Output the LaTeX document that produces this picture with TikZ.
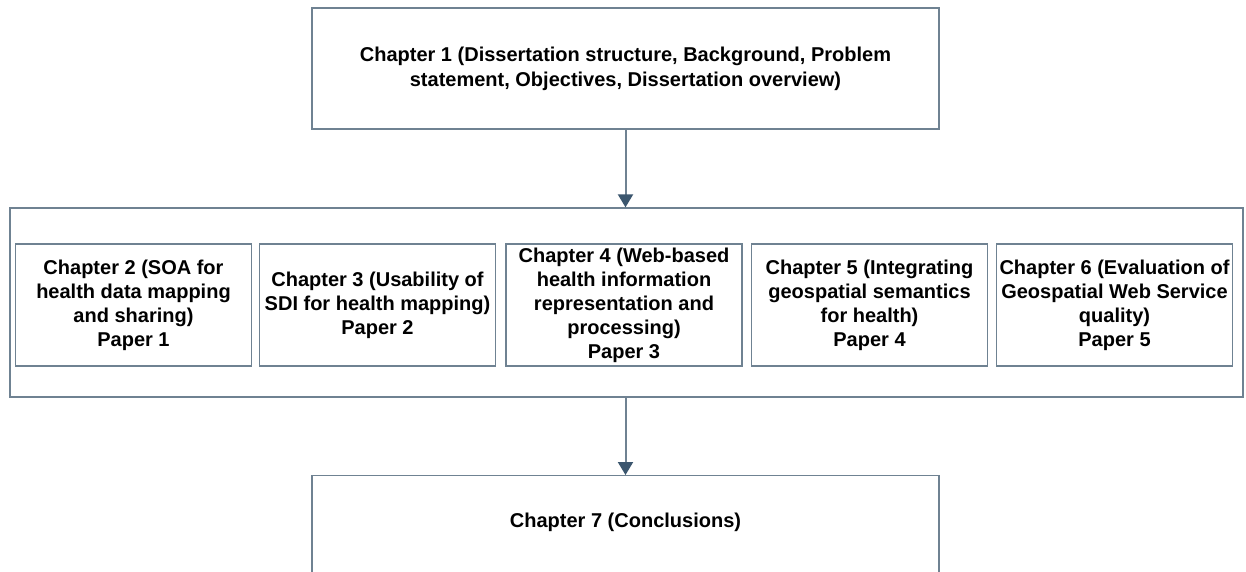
\documentclass[tikz,border=0pt]{standalone}
\usepackage{fontspec}
\setmainfont{Liberation Sans}
\usetikzlibrary{arrows.meta}
\definecolor{edgegray}{HTML}{6F8292}
\definecolor{tipblue}{HTML}{3B566E}
\tikzset{
  box/.style={draw=edgegray, line width=1.3pt, fill=white, align=center,
    font=\bfseries\fontsize{20}{24}\selectfont, inner sep=0pt},
  chapbox/.style={box, minimum width=236pt, minimum height=122pt},
  flow/.style={draw=edgegray, line width=2pt,
    -{Triangle[width=15pt,length=13pt,fill=tipblue,color=tipblue]}}
}
\begin{document}
\begin{tikzpicture}[x=1pt,y=1pt]
\clip (0,0) rectangle (1246,571);
\fill[white] (0,0) rectangle (1246,571);

% opening chapter
\node[box, minimum width=627pt, minimum height=121pt,
      font=\bfseries\fontsize{20}{25}\selectfont] (c1) at (625.5,502.5)
  {Chapter 1 (Dissertation structure, Background, Problem\\statement, Objectives, Dissertation overview)};

% frame holding the paper chapters
\node[box, minimum width=1233pt, minimum height=189pt] (papers) at (626.5,268.5) {};

\node[chapbox] (c2) at (133.5,266) {Chapter 2 (SOA for\\health data mapping\\and sharing)\\Paper 1};
\node[chapbox] (c3) at (377.5,266) {Chapter 3 (Usability of\\SDI for health mapping)\\Paper 2};
\node[chapbox] (c4) at (624,266) {Chapter 4 (Web-based\\health information\\representation and\\processing)\\Paper 3};
\node[chapbox] (c5) at (869.5,266) {Chapter 5 (Integrating\\geospatial semantics\\for health)\\Paper 4};
\node[chapbox] (c6) at (1114.5,266) {Chapter 6 (Evaluation of\\Geospatial Web Service\\quality)\\Paper 5};

% closing chapter, running past the lower edge
\node[box, minimum width=627pt, minimum height=140pt, anchor=north] (c7) at (625.5,96) {};
\node[font=\bfseries\fontsize{20}{24}\selectfont, inner sep=0pt] (c7text) at ([yshift=-47pt]c7.north) {Chapter 7 (Conclusions)};

\draw[flow] (c1.south) -- (c1.south |- papers.north);
\draw[flow] (c1.south |- papers.south) -- (c7.north);
\end{tikzpicture}
\end{document}
